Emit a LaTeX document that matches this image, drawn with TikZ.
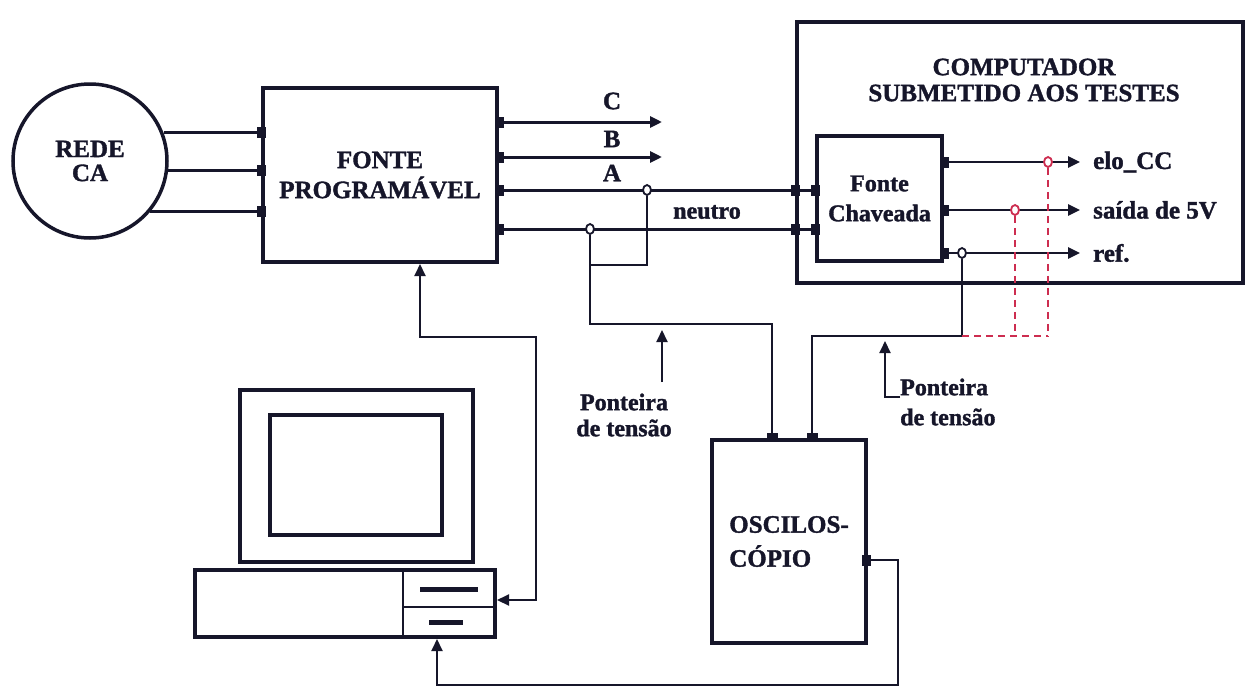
\documentclass[tikz,border=0pt]{standalone}
\usepackage{fontspec}
\setmainfont{Liberation Serif}
\newfontfamily\heavy{Liberation Serif Bold}[FakeBold=1.4]
\usetikzlibrary{arrows.meta,calc,shapes.geometric}
\definecolor{ink}{RGB}{22,22,42}
\definecolor{probe}{RGB}{205,45,80}
% small filled terminal pad centred on a point
\newcommand{\tpad}[1]{\fill[ink] (#1) +(-4.5,-5.5) rectangle +(4.5,5.5);}
\newcommand{\tpadv}[1]{\fill[ink] (#1) +(-5.5,-5) rectangle +(5.5,3);}

\begin{document}
\begin{tikzpicture}[x=1pt,y=-1pt,
  box/.style={draw=ink,line width=4pt,fill=white,inner sep=0pt,align=center,text=ink,
              font=\heavy\fontsize{25}{30}\selectfont},
  wire/.style={draw=ink,line width=3pt},
  lead/.style={draw=ink,line width=2pt},
  tip/.style={-{Triangle[length=12pt,width=11pt]}},
  tips/.style={{Triangle[length=12pt,width=11pt]}-{Triangle[length=12pt,width=11pt]}},
  lbl/.style={text=ink,inner sep=0pt,font=\heavy\fontsize{25}{30}\selectfont},
  tap/.style={ellipse,draw=ink,line width=1.8pt,fill=white,minimum width=8pt,minimum height=10pt,inner sep=0pt},
  redtap/.style={tap,draw=probe},
  redtrace/.style={draw=probe,line width=1.6pt,dash pattern=on 7pt off 5pt}]

\useasboundingbox (0,0) rectangle (1250,691);
\fill[white] (0,0) rectangle (1250,691);

% ---------- main blocks ----------
\node[circle,draw=ink,line width=3.5pt,minimum size=154pt,inner sep=0pt,align=center,text=ink,
      font=\heavy\fontsize{25}{24}\selectfont] (rede) at (90,161) {REDE\\CA};
\node[box,minimum width=234pt,minimum height=174pt] (fp) at (380,175) {FONTE\\PROGRAMÁVEL};
\node[box,minimum width=446pt,minimum height=261pt] (comp) at (1020,152.5) {};
\node[lbl,align=center,font=\heavy\fontsize{25}{26}\selectfont] (comptitle) at (1024,80)
      {COMPUTADOR\\SUBMETIDO AOS TESTES};
\node[box,minimum width=125pt,minimum height=125pt,font=\heavy\fontsize{24}{30}\selectfont]
      (fc) at (879.5,198.5) {Fonte\\Chaveada};
\node[box,minimum width=154pt,minimum height=203pt,align=left,font=\heavy\fontsize{25}{34}\selectfont]
      (osc) at (789,541.5) {OSCILOS-\\CÓPIO};

% ---------- desktop computer ----------
\node[draw=ink,line width=4pt,minimum width=233pt,minimum height=172pt,inner sep=0pt] (mon) at (356.5,476) {};
\node[draw=ink,line width=4pt,minimum width=172pt,minimum height=120pt,inner sep=0pt] (scr) at (356,475) {};
\node[draw=ink,line width=4pt,minimum width=300pt,minimum height=67pt,inner sep=0pt] (base) at (345,603.5) {};
\draw[lead] (base.north -| 403,0) -- (base.south -| 403,0);
\draw[lead] (403,607) -- (base.east |- 0,607);
\fill[ink] (420,586.5) rectangle (478,591.5);
\fill[ink] (429,619.5) rectangle (463,624.5);

% ---------- mains to programmable source ----------
\draw[wire] (rede.21.3) -- (rede.21.3 -| fp.west);
\draw[wire] (rede.-7.5) -- (rede.-7.5 -| fp.west);
\draw[wire] (rede.-40.5) -- (rede.-40.5 -| fp.west);
\tpad{rede.21.3 -| fp.west}
\tpad{rede.-7.5 -| fp.west}
\tpad{rede.-40.5 -| fp.west}

% ---------- phases C, B, A and neutral ----------
\coordinate (Cend) at (662,122);
\coordinate (Bend) at (662,157);
\coordinate (yA) at (0,190);
\coordinate (yN) at (0,229);
\draw[wire,tip] (fp.east |- Cend) -- (Cend);
\draw[wire,tip] (fp.east |- Bend) -- (Bend);
\draw[wire] (fp.east |- yA) -- (fc.west |- yA);
\draw[wire] (fp.east |- yN) -- (fc.west |- yN);
\tpad{fp.east |- Cend}
\tpad{fp.east |- Bend}
\tpad{fp.east |- yA}
\tpad{fp.east |- yN}
\tpad{comp.west |- yA}
\tpad{comp.west |- yN}
\tpad{fc.west |- yA}
\tpad{fc.west |- yN}

\node[lbl] (labC) at (612,101) {C};
\node[lbl] (labB) at (612,139) {B};
\node[lbl] (labA) at (612,173) {A};
\node[lbl,font=\heavy\fontsize{24}{30}\selectfont] (labN) at (707,212) {neutro};

% ---------- switched supply outputs ----------
\coordinate (eloEnd) at (1080,162);
\coordinate (saiEnd) at (1080,210);
\coordinate (refEnd) at (1080,253);
\draw[lead,line width=2.5pt,tip] (fc.east |- eloEnd) -- (eloEnd);
\draw[lead,line width=2.5pt,tip] (fc.east |- saiEnd) -- (saiEnd);
\draw[lead,line width=2.5pt,tip] (fc.east |- refEnd) -- (refEnd);
\tpad{fc.east |- eloEnd}
\tpad{fc.east |- saiEnd}
\tpad{fc.east |- refEnd}
\node[lbl,anchor=west] (elo) at (1093,162) {elo\_CC};
\node[lbl,anchor=west] (sai) at (1093,210) {saída de 5V};
\node[lbl,anchor=west] (refl) at (1093,253) {ref.};

% ---------- voltage probes ----------
\node[tap] (pA) at (647,190) {};
\node[tap] (pN) at (590,229) {};
\node[tap] (pR) at (962,253) {};
\node[redtap] (pE) at (1048,162) {};
\node[redtap] (pS) at (1015,210) {};

\coordinate (jn) at (590,265);
\coordinate (bend1) at (772,324);
\coordinate (bend2) at (812,336);
\draw[lead] (pA.south) |- (jn);
\draw[lead] (pN.south) |- (bend1) -- (bend1 |- osc.north);
\draw[lead] (pR.south) |- (bend2) -- (bend2 |- osc.north);
\tpadv{bend1 |- osc.north}
\tpadv{bend2 |- osc.north}

\draw[redtrace] (pE.south) -- (pE |- bend2);
\draw[redtrace] (pS.south) -- (pS |- bend2);
\draw[redtrace] (pR |- bend2) -- (pE |- bend2);

\node[lbl,align=center,font=\heavy\fontsize{24}{26}\selectfont] (pt1) at (624,415) {Ponteira\\de tensão};
\coordinate (ar1) at (662,330);
\draw[lead,tip] (ar1 |- 0,382) -- (ar1);
\node[lbl,align=left,anchor=west,font=\heavy\fontsize{24}{30}\selectfont] (pt2) at (900,402) {Ponteira\\de tensão};
\coordinate (ar2) at (885,341);
\draw[lead,tip] (pt2.west |- 0,397) -| (ar2);

% ---------- control links ----------
\coordinate (pc1) at (420,337);
\coordinate (pc2) at (536,600);
\draw[lead,tips] (fp.south -| pc1) -- (pc1) -| (pc2) -- (pc2 -| base.east);

\coordinate (oterm) at (866,560);
\coordinate (ob1) at (898,685);
\draw[lead,tip] (oterm) -| (ob1) -| (base.south -| 437,0);
\tpad{oterm}

\end{tikzpicture}
\end{document}
